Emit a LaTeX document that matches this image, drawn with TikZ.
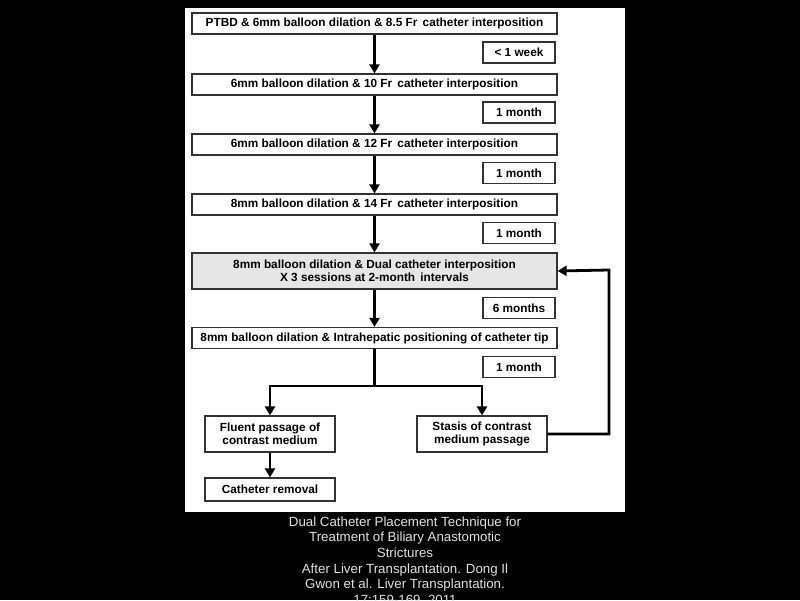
\documentclass[tikz,border=0pt]{standalone}
\usepackage{fontspec}
\setmainfont{Liberation Sans}
\usetikzlibrary{arrows.meta,positioning}
\definecolor{capgray}{HTML}{E0E0E0}
\definecolor{boxgray}{HTML}{E6E6E6}
\tikzset{box/.style={draw=black!80,line width=1.2pt,fill=white,align=center,
  minimum width=365pt,minimum height=21pt,inner sep=1pt,font=\bfseries\fontsize{11.8}{13.5}\selectfont},
  dualbox/.style={box,fill=boxgray,minimum height=36pt},
  timebox/.style={box,minimum width=72pt},
  endbox/.style={box,minimum width=130pt},
  flow/.style={-{Triangle[length=9pt,width=10pt]},line width=2.8pt}}

\begin{document}
\begin{tikzpicture}[x=1pt,y=-1pt]
\useasboundingbox (0,0) rectangle (800,600);
\fill[black] (0,0) rectangle (800,600);
\fill[white] (185,8) rectangle (625,512);
% treatment steps
\node[box] (ptbd) at (374.5,23.5) {PTBD \& 6mm balloon dilation \& 8.5 Fr\, catheter interposition};
\node[box] (tenfr) at (374.5,84.5) {6mm balloon dilation \& 10 Fr\, catheter interposition};
\node[box] (twelvefr) at (374.5,144.5) {6mm balloon dilation \& 12 Fr\, catheter interposition};
\node[box] (fourteenfr) at (374.5,204.5) {8mm balloon dilation \& 14 Fr\, catheter interposition};
\node[dualbox] (dual) at (374.5,271) {8mm balloon dilation \& Dual catheter interposition\\X 3 sessions at 2-month\, intervals};
\node[box] (intra) at (374.5,338) {8mm balloon dilation \& Intrahepatic positioning of catheter tip};
% intervals
\node[timebox] (week) at (519,52.5) {\textless{} 1 week};
\node[timebox] (monthA) at (519,112.5) {1 month};
\node[timebox] (monthB) at (519,173) {1 month};
\node[timebox] (monthC) at (519,233) {1 month};
\node[timebox] (sixmonths) at (519,308) {6 months};
\node[timebox] (monthD) at (519,367) {1 month};
% outcomes
\node[endbox,minimum height=36pt] (fluent) at (270,434) {Fluent passage of\\contrast medium};
\node[endbox,minimum height=36pt] (stasis) at (482,434) {Stasis of contrast\\medium passage};
\node[endbox,minimum height=23pt] (removal) at (270,489.5) {Catheter removal};
\coordinate (split) at (374.5,386);
\coordinate (loop) at (609,270);
\draw[flow] (ptbd) -- (tenfr);
\draw[flow] (tenfr) -- (twelvefr);
\draw[flow] (twelvefr) -- (fourteenfr);
\draw[flow] (fourteenfr) -- (dual);
\draw[flow] (dual) -- (intra);
\draw[line width=2.8pt] (intra) -- (split);
\draw[flow] (split) -| (fluent.north);
\draw[flow] (split) -| (stasis.north);
\draw[flow] (fluent) -- (removal);
\draw[flow] (stasis.east) -| (loop) -- (dual.east);
% caption
\node[anchor=north,text=capgray,align=center,font=\fontsize{13.3}{15.7}\selectfont] (caption) at (405,513)
  {Dual Catheter Placement Technique for\\Treatment of Biliary Anastomotic\\Strictures\\After Liver Transplantation. Dong Il\\Gwon et al. Liver Transplantation.\\17:159-169, 2011};
\end{tikzpicture}
\end{document}
